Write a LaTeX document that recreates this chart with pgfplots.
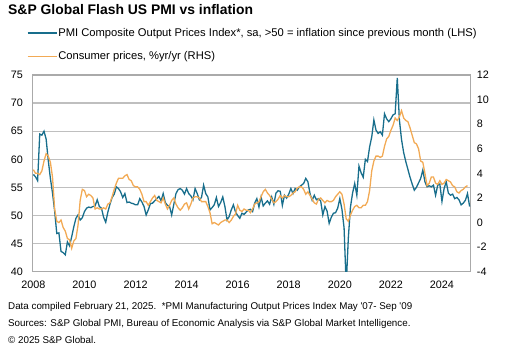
\documentclass[border=0pt]{standalone}
\usepackage{pgfplots}
\pgfplotsset{compat=1.18}
\usepackage{pgfplotstable}
\usepackage{fontspec}
\setmainfont{Liberation Sans}
\definecolor{pmiblue}{RGB}{24,110,140}
\definecolor{cpiorange}{RGB}{242,170,85}
\definecolor{gridgray}{RGB}{191,191,191}
\definecolor{framegray}{RGB}{170,170,170}

% PMI Composite Output Prices Index, monthly Jan 2008 - Feb 2025
\pgfplotstableread{
v
57.3
56.9
56.2
64.5
64.3
65.0
63.6
59.8
56.6
54.0
50.8
46.8
46.9
43.6
43.4
43.0
45.3
44.6
46.2
48.0
49.5
50.1
49.2
49.6
50.7
51.3
51.5
51.4
51.6
51.7
52.8
51.6
51.3
49.7
48.8
50.6
52.0
53.2
53.8
55.1
54.8
54.2
53.2
53.9
52.3
52.4
52.2
52.1
51.9
51.9
53.0
52.4
51.6
50.1
51.0
52.1
52.2
52.6
53.0
53.4
52.6
53.9
52.3
51.8
51.6
50.1
52.0
53.9
54.6
54.8
54.5
53.8
54.8
53.9
53.5
52.8
54.8
53.9
52.8
53.2
55.4
53.9
53.3
51.0
51.4
51.9
53.2
51.6
52.3
53.3
51.6
49.2
49.8
51.0
51.9
50.6
50.0
49.5
50.4
50.2
50.6
51.0
51.1
50.7
52.2
53.0
51.5
53.3
51.7
52.2
52.6
52.0
53.3
52.0
54.0
54.4
54.3
51.8
53.6
53.1
53.8
54.8
53.9
54.8
54.5
55.1
55.4
55.7
56.6
56.0
53.9
52.7
53.6
52.8
53.0
52.6
50.1
51.6
50.8
48.6
49.7
50.4
50.5
51.3
53.0
51.1
47.8
37.5
46.0
51.5
54.0
55.7
53.6
58.8
57.6
56.8
60.0
59.6
62.2
64.0
67.0
65.2
64.6
64.9
64.3
68.1
67.2
66.7
67.2
67.9
68.1
74.5
67.0
63.5
61.2
59.6
58.2
56.8
55.6
54.5
55.0
55.8
56.6
58.1
56.0
55.1
55.3
55.1
55.4
53.6
55.4
55.6
52.5
54.8
56.0
54.0
53.6
53.8
53.0
53.2
52.8
51.9
52.2
52.7
53.9
51.6
}\pmi

% Consumer prices, %yr/yr, monthly Jan 2008 - Jan 2025
\pgfplotstableread{
v
4.3
4.0
4.0
3.9
4.2
5.0
5.6
5.4
4.9
3.7
1.1
0.1
0.0
0.2
-0.4
-0.7
-1.3
-1.4
-2.1
-1.5
-1.3
-0.2
1.8
2.7
2.6
2.1
2.3
2.2
2.0
1.1
1.2
1.1
1.1
1.2
1.1
1.5
1.6
2.1
2.7
3.2
3.6
3.6
3.6
3.8
3.9
3.5
3.4
3.0
2.9
2.9
2.7
2.3
1.7
1.7
1.4
1.7
2.0
2.2
1.8
1.7
1.6
2.0
1.5
1.1
1.4
1.8
2.0
1.5
1.2
1.0
1.2
1.5
1.6
1.1
1.5
2.0
2.1
2.1
2.0
1.7
1.7
1.7
1.3
0.8
-0.1
0.0
-0.1
-0.2
0.0
0.1
0.2
0.2
0.0
0.2
0.5
0.7
1.4
1.0
0.9
1.1
1.0
1.0
0.8
1.1
1.5
1.6
1.7
2.1
2.5
2.7
2.4
2.2
1.9
1.6
1.7
1.9
2.2
2.0
2.2
2.1
2.1
2.2
2.4
2.5
2.8
2.9
2.9
2.7
2.3
2.5
2.2
1.9
1.6
1.5
1.9
2.0
1.8
1.6
1.8
1.7
1.7
1.8
2.1
2.3
2.5
2.3
1.5
0.3
0.1
0.6
1.0
1.3
1.4
1.2
1.2
1.4
1.4
1.7
2.6
4.2
5.0
5.4
5.4
5.3
5.4
6.2
6.8
7.0
7.5
7.9
8.5
8.3
8.6
9.1
8.5
8.3
8.2
7.7
7.1
6.5
6.4
6.0
5.0
4.9
4.0
3.0
3.2
3.7
3.7
3.2
3.1
3.4
3.1
3.2
3.5
3.4
3.3
3.0
2.9
2.5
2.4
2.6
2.7
2.9
3.0
}\cpi

\pgfplotsset{common/.style={
  at={(0bp,0bp)}, anchor=south west,
  scale only axis, width=438.4bp, height=196.7bp,
  xmin=-0.5, xmax=205.5,
  major tick length=0pt,
  tick label style={font=\fontsize{10.8bp}{12bp}\selectfont},
  /pgf/number format/assume math mode=true,
}}

\begin{document}
\begin{tikzpicture}
\useasboundingbox (-32.3bp,-78.3bp) rectangle (496.7bp,271.7bp);
\node[anchor=base west, inner sep=0pt, font=\fontsize{13.9bp}{16bp}\selectfont\bfseries] at (-24.3bp,256.7bp) {S\&P Global Flash US PMI vs inflation};

\begin{axis}[common,
  ymin=40, ymax=75,
  xtick={0,24,48,72,96,120,144,168,192},
  xticklabels={2008,2010,2012,2014,2016,2018,2020,2022,2024},
  ytick={40,45,50,55,60,65,70,75},
  ymajorgrids, grid style={gridgray, line width=1.2bp},
  axis line style={framegray, line width=1.3bp},
  xticklabel style={yshift=-6bp},
  yticklabel style={xshift=-6bp},
  legend image code/.code={\draw[#1, line width=1.3bp] (0bp,0bp) -- (29.5bp,0bp);},
  legend style={at={(-0.0121,1.240)}, anchor=north west, draw=none, fill=none,
    inner sep=0pt, outer sep=0pt, row sep=12.8bp,
    font=\fontsize{11.2bp}{13bp}\selectfont,
    nodes={inner sep=0.5bp}},
  legend cell align=left,
]
\addplot[pmiblue, line width=1.3bp] table[x expr=\coordindex, y=v] {\pmi};
\addlegendentry{PMI Composite Output Prices Index*, sa, >50 = inflation since previous month (LHS)}
\addlegendimage{cpiorange, line width=1.3bp}
\addlegendentry{Consumer prices, \%yr/yr (RHS)}
\end{axis}

\begin{axis}[common,
  ymin=-4, ymax=12,
  ytick={-4,-2,0,2,4,6,8,10,12},
  axis x line=none, axis y line*=right,
  y axis line style={draw=none},
  yticklabel style={xshift=2.7bp},
]
\addplot[cpiorange, line width=1.3bp] table[x expr=\coordindex, y=v] {\cpi};
\end{axis}

\node[anchor=base west, inner sep=0pt, font=\fontsize{9.8bp}{11bp}\selectfont] at (-24.3bp,-37.3bp) {Data compiled February 21, 2025.\ \ *PMI Manufacturing Output Prices Index May \textquotesingle07- Sep \textquotesingle09};
\node[anchor=base west, inner sep=0pt, font=\fontsize{9.8bp}{11bp}\selectfont] at (-24.3bp,-54.3bp) {Sources: S\&P Global PMI, Bureau of Economic Analysis via S\&P Global Market Intelligence.};
\node[anchor=base west, inner sep=0pt, font=\fontsize{9.8bp}{11bp}\selectfont] at (-24.3bp,-71.3bp) {\textcopyright{} 2025 S\&P Global.};
\end{tikzpicture}
\end{document}
